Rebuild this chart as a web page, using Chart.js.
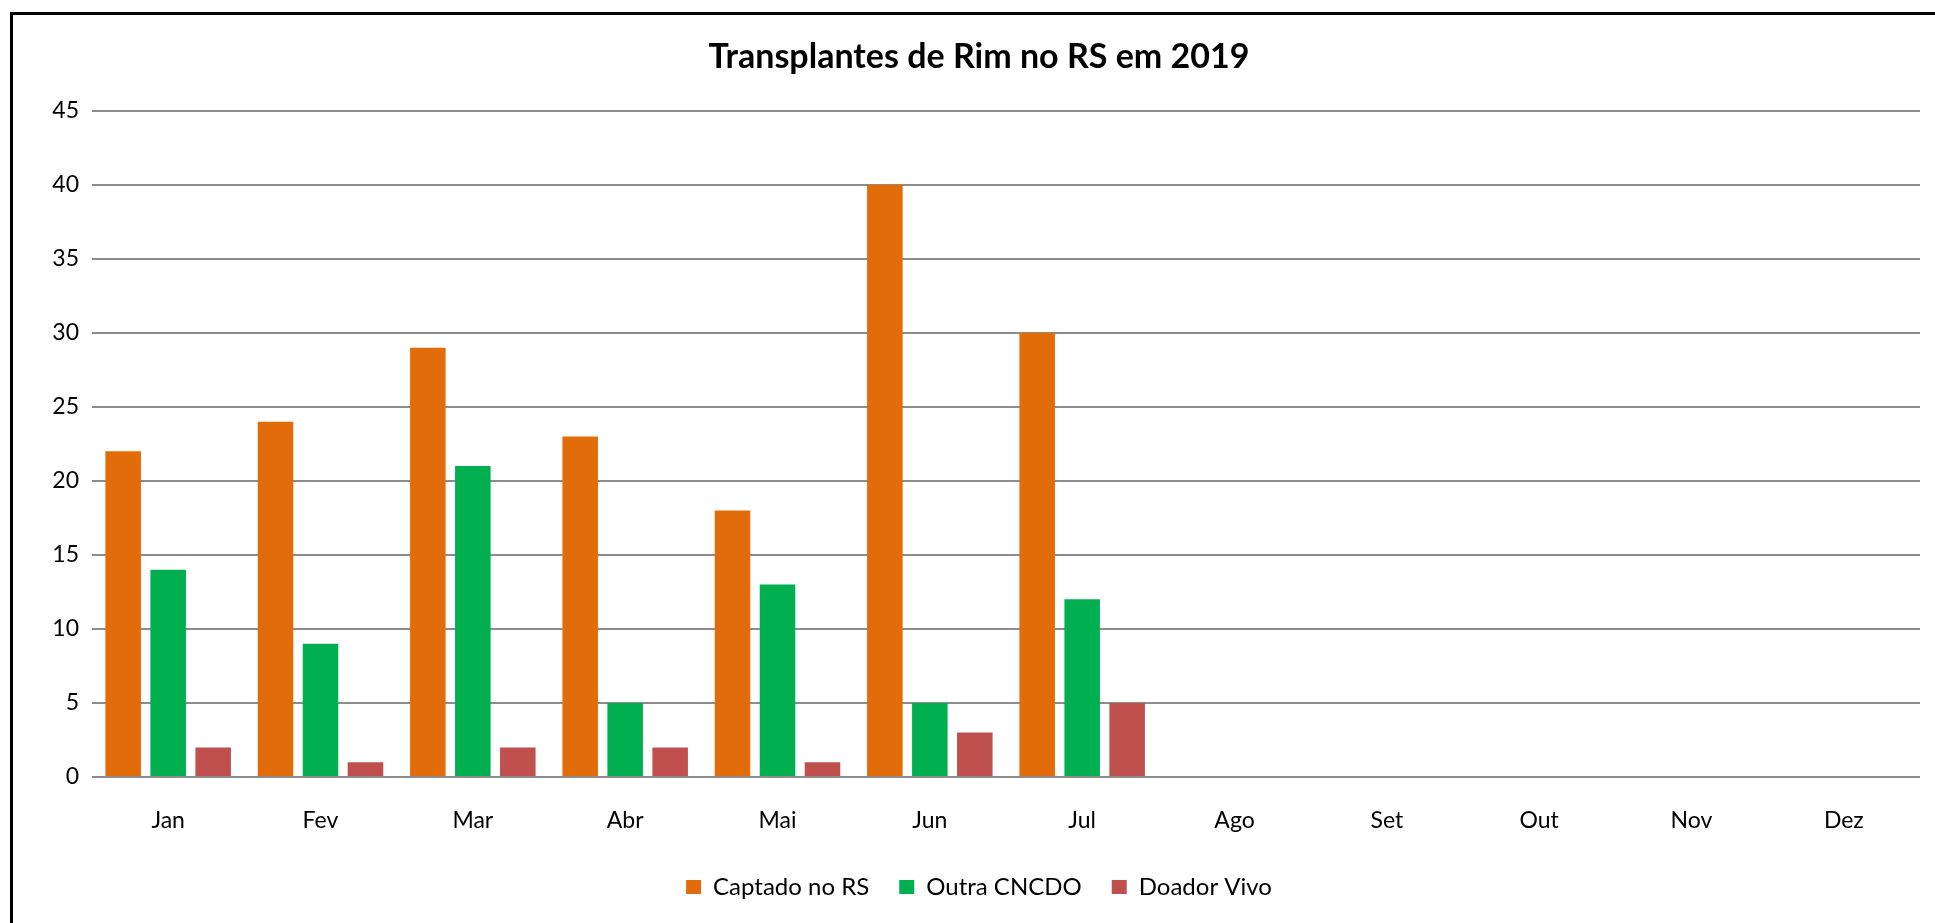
<!DOCTYPE html>
<html>
<head>
<meta charset="utf-8">
<title>Transplantes de Rim no RS em 2019</title>
<script src="https://cdn.jsdelivr.net/npm/chart.js@4"></script>
<style>
  html,body{margin:0;padding:0;background:#fff;overflow:hidden;}
  #frame{position:absolute;left:10px;top:12px;width:2000px;height:1000px;border-left:3px solid #000;border-top:3px solid #000;}
  #chart{position:absolute;left:13px;top:15px;}
</style>
</head>
<body>
<div id="frame"></div>
<canvas id="chart" width="1932" height="908"></canvas>
<script>
const months=['Jan','Fev','Mar','Abr','Mai','Jun','Jul','Ago','Set','Out','Nov','Dez'];
const captadoRS=[22,24,29,23,18,40,30,null,null,null,null,null];
const outraCNCDO=[14,9,21,5,13,5,12,null,null,null,null,null];
const doadorVivo=[2,1,2,2,1,3,5,null,null,null,null,null];
const yTicks=[0,5,10,15,20,25,30,35,40,45];

const FONT='Lato, "Open Sans", sans-serif';
Chart.defaults.color='#000';
Chart.defaults.font.family=FONT;

function bar(label,data,color){
  return {label,data,backgroundColor:color,borderWidth:0,categoryPercentage:0.886,barPercentage:0.79};
}

new Chart(document.getElementById('chart'),{
  type:'bar',
  data:{
    labels:months,
    datasets:[
      bar('Captado no RS',captadoRS,'#E36C0A'),
      bar('Outra CNCDO',outraCNCDO,'#00B050'),
      bar('Doador Vivo',doadorVivo,'#C0504D')
    ]
  },
  options:{
    responsive:false,
    devicePixelRatio:1,
    animation:false,
    layout:{padding:{left:0,right:0,top:0,bottom:14}},
    plugins:{
      title:{display:true,text:'Transplantes de Rim no RS em 2019',font:{size:34,weight:'bold',family:FONT},color:'#000',padding:{top:22,bottom:33}},
      legend:{position:'bottom',labels:{boxWidth:15,boxHeight:14,padding:30,font:{size:24},color:'#000'}},
      tooltip:{enabled:false}
    },
    scales:{
      x:{
        grid:{display:false},
        border:{display:false},
        ticks:{font:{size:23},padding:22,color:'#000'},
        afterFit:s=>{s.height=68;}
      },
      y:{
        min:0,max:45,
        afterBuildTicks:s=>{s.ticks=yTicks.map(v=>({value:v}));},
        grid:{color:'#8c8c8c',lineWidth:2,drawTicks:false},
        border:{display:false},
        ticks:{font:{size:23},padding:13,color:'#000'},
        afterFit:s=>{s.width=79;}
      },
      // empty strip on the right so the plot ends where the reference does
      yRight:{
        position:'right',
        display:true,
        grid:{display:false,drawTicks:false},
        border:{display:false},
        ticks:{display:false},
        afterFit:s=>{s.width=25;}
      }
    }
  }
});
</script>
</body>
</html>
